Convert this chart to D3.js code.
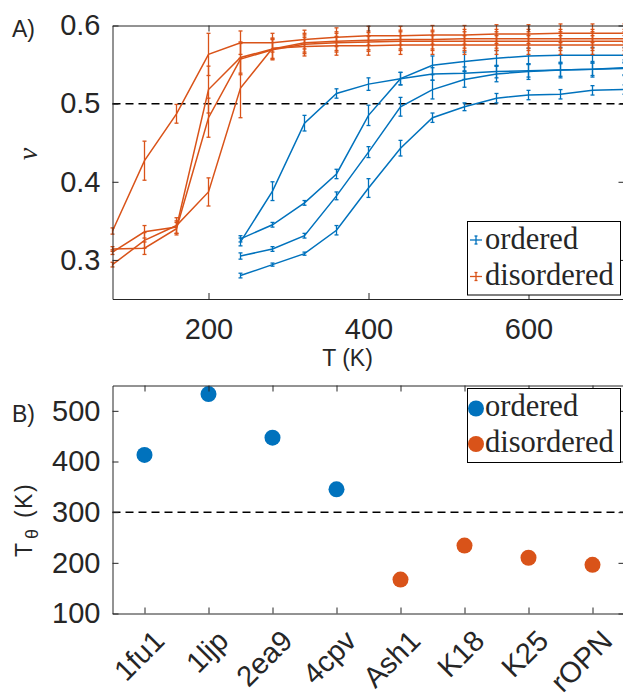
<!DOCTYPE html>
<html>
<head>
<meta charset="utf-8">
<script src="https://cdn.jsdelivr.net/npm/d3@7"></script>
<style>
  body { margin: 0; background: #fff; }
  svg { display: block; }
  text { font-family: "Liberation Sans", Arial, sans-serif; fill: #262626; }
</style>
</head>
<body>
<div id="chart"></div>
<script>
// temperatures of the simulations (K)
const tempsDisordered = [80, 120, 160, 200, 240, 280, 320, 360, 400, 440, 480, 520, 560, 600, 640, 680, 720];
const tempsOrdered = [240, 280, 320, 360, 400, 440, 480, 520, 560, 600, 640, 680, 720];

// scaling exponent nu and its error, ordered proteins
const nu1fu1 = [0.327, 0.345, 0.373, 0.410, 0.485, 0.532, 0.549, 0.554, 0.558, 0.561, 0.562, 0.562, 0.562];
const err1fu1 = [0.004, 0.003, 0.003, 0.006, 0.013, 0.008, 0.012, 0.012, 0.010, 0.010, 0.010, 0.010, 0.010];
const nu1ljp = [0.280, 0.294, 0.308, 0.338, 0.392, 0.443, 0.482, 0.496, 0.507, 0.511, 0.512, 0.517, 0.518];
const err1ljp = [0.003, 0.002, 0.002, 0.006, 0.012, 0.010, 0.006, 0.005, 0.006, 0.006, 0.006, 0.006, 0.006];
const nu2ea9 = [0.305, 0.314, 0.331, 0.382, 0.438, 0.496, 0.518, 0.531, 0.538, 0.541, 0.543, 0.544, 0.546];
const err2ea9 = [0.004, 0.003, 0.003, 0.005, 0.007, 0.012, 0.012, 0.010, 0.010, 0.010, 0.010, 0.010, 0.010];
const nu4cpv = [0.323, 0.388, 0.475, 0.513, 0.525, 0.532, 0.538, 0.539, 0.541, 0.542, 0.543, 0.544, 0.545];
const err4cpv = [0.005, 0.012, 0.010, 0.006, 0.008, 0.008, 0.008, 0.008, 0.008, 0.008, 0.008, 0.008, 0.008];

// disordered proteins
const nuAsh1 = [0.337, 0.427, 0.487, 0.563, 0.578, 0.578, 0.582, 0.585, 0.587, 0.587, 0.588, 0.588, 0.589, 0.589, 0.590, 0.590, 0.590];
const errAsh1 = [0.004, 0.025, 0.012, 0.027, 0.015, 0.012, 0.012, 0.012, 0.012, 0.012, 0.012, 0.012, 0.012, 0.012, 0.012, 0.012, 0.012];
const nuK18 = [0.294, 0.325, 0.344, 0.387, 0.520, 0.571, 0.573, 0.574, 0.574, 0.575, 0.575, 0.575, 0.575, 0.575, 0.575, 0.575, 0.575];
const errK18 = [0.003, 0.010, 0.010, 0.018, 0.038, 0.013, 0.012, 0.012, 0.012, 0.012, 0.012, 0.012, 0.012, 0.012, 0.012, 0.012, 0.012];
const nuK25 = [0.314, 0.315, 0.340, 0.482, 0.557, 0.569, 0.576, 0.578, 0.579, 0.580, 0.580, 0.580, 0.580, 0.580, 0.580, 0.580, 0.580];
const errK25 = [0.003, 0.008, 0.008, 0.025, 0.020, 0.013, 0.012, 0.012, 0.012, 0.012, 0.012, 0.012, 0.012, 0.012, 0.012, 0.012, 0.012];
const nuROPN = [0.310, 0.336, 0.342, 0.518, 0.559, 0.570, 0.578, 0.580, 0.581, 0.582, 0.582, 0.583, 0.583, 0.583, 0.583, 0.583, 0.583];
const errROPN = [0.003, 0.008, 0.008, 0.030, 0.020, 0.013, 0.012, 0.012, 0.012, 0.012, 0.012, 0.012, 0.012, 0.012, 0.012, 0.012, 0.012];

// theta temperatures (panel B)
const proteins = ["1fu1", "1ljp", "2ea9", "4cpv", "Ash1", "K18", "K25", "rOPN"];
const thetaTemps = [413, 533, 447, 345, 167, 234, 210, 196];
const proteinClass = ["ordered", "ordered", "ordered", "ordered", "disordered", "disordered", "disordered", "disordered"];

const classes = ["ordered", "disordered"];
const nuTicks = [0.3, 0.4, 0.5, 0.6];
const tTicks = [200, 400, 600];
const thetaTicks = [100, 200, 300, 400, 500];

const color = d3.scaleOrdinal().domain(classes).range(["#0072BD", "#D95319"]);
const axisColor = "#262626";

const svg = d3.select("#chart").append("svg")
    .attr("width", 623)
    .attr("height", 698);

// ---------- panel A ----------
const series = [
    {cls: "ordered", t: tempsOrdered, nu: nu1fu1, err: err1fu1},
    {cls: "ordered", t: tempsOrdered, nu: nu1ljp, err: err1ljp},
    {cls: "ordered", t: tempsOrdered, nu: nu2ea9, err: err2ea9},
    {cls: "ordered", t: tempsOrdered, nu: nu4cpv, err: err4cpv},
    {cls: "disordered", t: tempsDisordered, nu: nuAsh1, err: errAsh1},
    {cls: "disordered", t: tempsDisordered, nu: nuK18, err: errK18},
    {cls: "disordered", t: tempsDisordered, nu: nuK25, err: errK25},
    {cls: "disordered", t: tempsDisordered, nu: nuROPN, err: errROPN}
];

const xA = d3.scaleLinear().domain([80, 720]).range([112.5, 624.5]);
const yA = d3.scaleLinear().domain([0.25, 0.6]).range([299, 25.5]);

const gA = svg.append("g");

gA.append("line")
    .attr("x1", xA(80)).attr("x2", xA(720))
    .attr("y1", yA(0.5)).attr("y2", yA(0.5))
    .attr("stroke", "#000").attr("stroke-width", 1.5)
    .attr("stroke-dasharray", "8,5");

const line = d3.line().x(d => xA(d[0])).y(d => yA(d[1]));

series.forEach(s => {
    const pts = s.t.map((t, i) => [t, s.nu[i], s.err[i]]);
    const g = gA.append("g").attr("stroke", color(s.cls)).attr("fill", "none");
    g.append("path")
        .attr("d", line(pts))
        .attr("stroke-width", 1.5);
    const bars = g.selectAll(".eb").data(pts).enter().append("g");
    bars.append("line")
        .attr("x1", d => xA(d[0])).attr("x2", d => xA(d[0]))
        .attr("y1", d => yA(d[1] - d[2])).attr("y2", d => yA(d[1] + d[2]))
        .attr("stroke-width", 1.3);
    [-1, 1].forEach(k => {
        bars.append("line")
            .attr("x1", d => xA(d[0]) - 2).attr("x2", d => xA(d[0]) + 2)
            .attr("y1", d => yA(d[1] + k * d[2])).attr("y2", d => yA(d[1] + k * d[2]))
            .attr("stroke-width", 1.3);
    });
});

function styleAxis(g) {
    g.select(".domain").attr("stroke", axisColor).attr("stroke-width", 1);
    g.selectAll(".tick line").attr("stroke", axisColor).attr("stroke-width", 1);
    g.selectAll(".tick text").attr("fill", axisColor).style("font-size", "29px")
        .style("font-family", '"Liberation Sans", Arial, sans-serif');
}

gA.append("g").attr("transform", `translate(0,${yA(0.25)})`)
    .call(d3.axisBottom(xA).tickValues(tTicks).tickSize(-6).tickSizeOuter(0).tickPadding(19))
    .call(styleAxis);
gA.append("g").attr("transform", `translate(0,${yA(0.6)})`)
    .call(d3.axisTop(xA).tickValues(tTicks).tickSize(-6).tickSizeOuter(0).tickFormat(""))
    .call(styleAxis);
gA.append("g").attr("transform", `translate(${xA(80)},0)`)
    .call(d3.axisLeft(yA).tickValues(nuTicks).tickSize(-6).tickSizeOuter(0).tickPadding(12).tickFormat(d3.format(".1f")))
    .call(styleAxis);
gA.append("g").attr("transform", `translate(${xA(720)},0)`)
    .call(d3.axisRight(yA).tickValues(nuTicks).tickSize(-6).tickSizeOuter(0).tickFormat(""))
    .call(styleAxis);

gA.append("text").attr("x", 347.5).attr("y", 366).attr("text-anchor", "middle")
    .style("font-size", "23px").text("T (K)");
gA.append("text").attr("transform", "translate(37,154) rotate(-90)").attr("text-anchor", "middle")
    .style("font-family", '"Liberation Serif", serif').style("font-style", "italic")
    .style("font-size", "28px").text("ν");
svg.append("text").attr("x", 12).attr("y", 37).style("font-size", "23px").attr("fill", "#000").text("A)");

// legend A
const legA = gA.append("g");
legA.append("rect").attr("x", 467.5).attr("y", 221.5).attr("width", 153).attr("height", 73.5)
    .attr("fill", "#fff").attr("stroke", "#000").attr("stroke-width", 1);
classes.forEach((c, i) => {
    const yy = 240 + i * 36.5;
    const g = legA.append("g").attr("stroke", color(c)).attr("stroke-width", 1.3);
    g.append("line").attr("x1", 470).attr("x2", 482).attr("y1", yy).attr("y2", yy);
    g.append("line").attr("x1", 476).attr("x2", 476).attr("y1", yy - 4).attr("y2", yy + 4);
    g.append("line").attr("x1", 474.5).attr("x2", 477.5).attr("y1", yy - 4).attr("y2", yy - 4);
    g.append("line").attr("x1", 474.5).attr("x2", 477.5).attr("y1", yy + 4).attr("y2", yy + 4);
    legA.append("text").attr("x", 485).attr("y", yy + 8.5)
        .style("font-family", '"Liberation Serif", serif').style("font-size", "30.5px")
        .attr("fill", "#000").text(c);
});

// ---------- panel B ----------
const xB = d3.scalePoint().domain(proteins).range([112.5, 624.5]).padding(0.5);
const yB = d3.scaleLinear().domain([100, 550]).range([613.5, 385.5]);
const gB = svg.append("g");

gB.append("line")
    .attr("x1", 112.5).attr("x2", 624.5)
    .attr("y1", yB(300)).attr("y2", yB(300))
    .attr("stroke", "#000").attr("stroke-width", 1.5)
    .attr("stroke-dasharray", "8,5");

gB.selectAll("circle.pt")
    .data(proteins)
    .enter()
    .append("circle")
    .attr("class", "pt")
    .attr("cx", d => xB(d))
    .attr("cy", (d, i) => yB(thetaTemps[i]))
    .attr("r", 8)
    .attr("fill", (d, i) => color(proteinClass[i]));

const axB = gB.append("g").attr("transform", `translate(0,${yB(100)})`)
    .call(d3.axisBottom(xB).tickSize(-6).tickSizeOuter(0))
    .call(styleAxis);
axB.selectAll(".tick text")
    .attr("y", null).attr("dy", null)
    .attr("text-anchor", "end")
    .attr("dominant-baseline", "central")
    .attr("transform", "translate(14,22) rotate(-45)");
gB.append("g").attr("transform", `translate(0,${yB(550)})`)
    .call(d3.axisTop(xB).tickSize(-6).tickSizeOuter(0).tickFormat(""))
    .call(styleAxis);
gB.append("g").attr("transform", "translate(112.5,0)")
    .call(d3.axisLeft(yB).tickValues(thetaTicks).tickSize(-6).tickSizeOuter(0).tickPadding(12))
    .call(styleAxis);
gB.append("g").attr("transform", "translate(624.5,0)")
    .call(d3.axisRight(yB).tickValues(thetaTicks).tickSize(-6).tickSizeOuter(0).tickFormat(""))
    .call(styleAxis);

const yl = gB.append("text").attr("transform", "translate(32,520) rotate(-90)").attr("text-anchor", "middle")
    .style("font-size", "23px");
yl.append("tspan").text("T");
yl.append("tspan").attr("dx", 4).attr("dy", 6).style("font-size", "18px").text("θ");
yl.append("tspan").attr("dx", 3).attr("dy", -6).style("letter-spacing", "1.5px").text(" (K)");
svg.append("text").attr("x", 12).attr("y", 422).style("font-size", "23px").attr("fill", "#000").text("B)");

// legend B
const legB = gB.append("g");
legB.append("rect").attr("x", 467.5).attr("y", 388.5).attr("width", 153).attr("height", 74)
    .attr("fill", "#fff").attr("stroke", "#000").attr("stroke-width", 1);
classes.forEach((c, i) => {
    const yy = 408.5 + i * 35.5;
    legB.append("circle").attr("cx", 476).attr("cy", yy).attr("r", 8).attr("fill", color(c));
    legB.append("text").attr("x", 485).attr("y", yy + 7.5)
        .style("font-family", '"Liberation Serif", serif').style("font-size", "30.5px")
        .attr("fill", "#000").text(c);
});
</script>
</body>
</html>
